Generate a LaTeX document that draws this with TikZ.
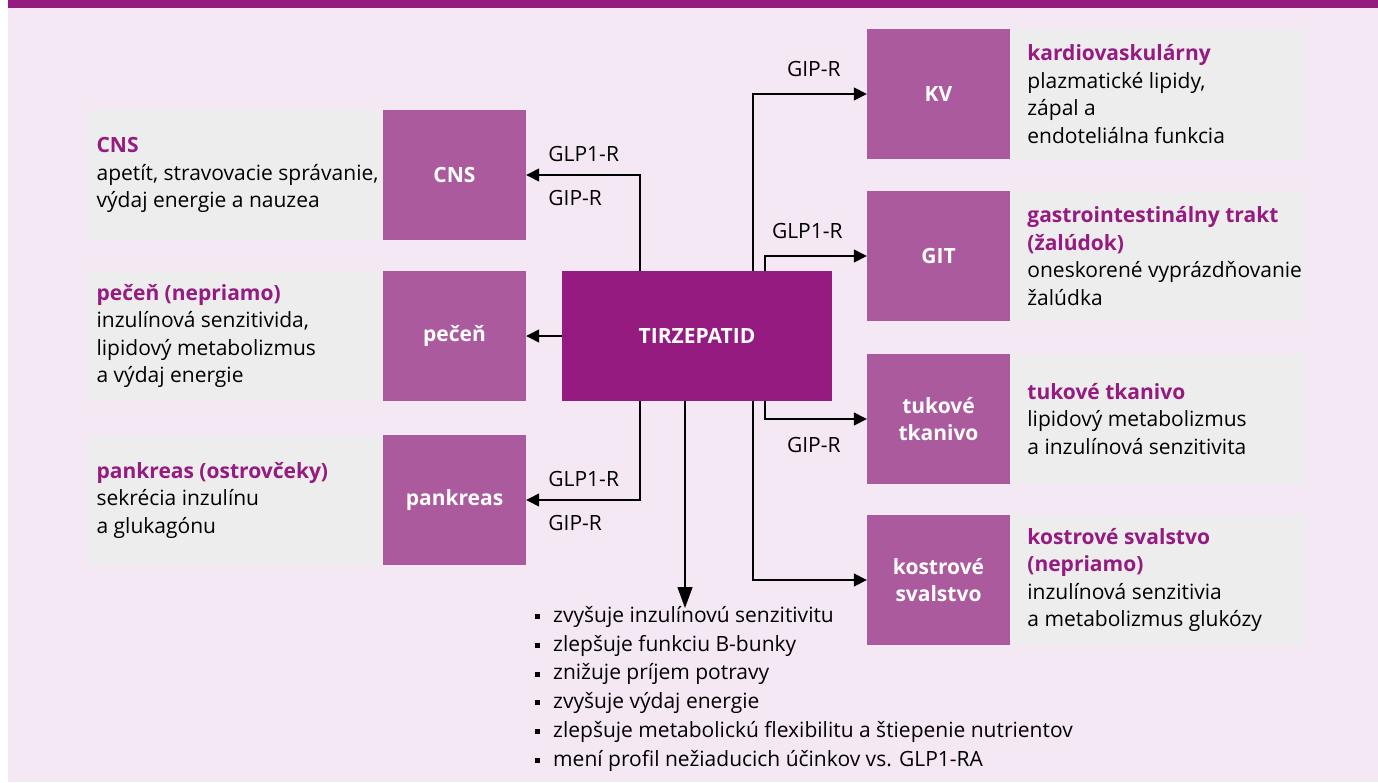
\documentclass[tikz,border=0pt]{standalone}
\usepackage{fontspec}
\setmainfont{Open Sans}
\usetikzlibrary{positioning,arrows.meta}

\definecolor{tirzcol}{HTML}{951B81}
\definecolor{organcol}{HTML}{AB5A9D}
\definecolor{bgcol}{HTML}{F4E8F5}
\definecolor{infocol}{HTML}{EDEDED}

\newcommand{\txt}{\fontsize{21bp}{27.5bp}\selectfont}
\newcommand{\listtxt}{\fontsize{21bp}{28.8bp}\selectfont}
\newcommand{\head}[1]{\textcolor{tirzcol}{\bfseries #1}}
\newcommand{\sq}{\raisebox{0.3ex}{\rule{5bp}{5bp}}\hspace{13bp}}

\tikzset{
  organ/.style={fill=organcol,minimum width=143bp,minimum height=130bp,inner sep=0pt,
    text=white,font=\txt\bfseries,align=center},
  info/.style={fill=infocol,minimum width=295bp,minimum height=130bp,inner sep=0pt},
  desc/.style={align=left,inner sep=0pt,font=\txt},
  lbl/.style={inner sep=0pt,font=\txt},
  arr/.style={line width=1.4bp,-{Triangle[length=13bp,width=13bp]}},
  bigarr/.style={line width=1.4bp,-{Triangle[length=21bp,width=15bp]}}
}

\begin{document}
\begin{tikzpicture}[x=1bp,y=-1bp]

        \useasboundingbox (0,0) rectangle (1378,782);
        \fill[bgcol] (8,8) rectangle (1378,782);
        \fill[tirzcol] (8,0) rectangle (1378,8);

        \begin{scope}[every node/.style={organ}]
          \node (cns)   at (454.5,175) {CNS};
          \node (pecen) at (454.5,336) {pečeň};
          \node (pank)  at (454.5,500) {pankreas};
          \node (kv)    at (938.5,94)  {KV};
          \node (git)   at (938.5,256) {GIT};
          \node (tuk)   at (938.5,419) {tukové\\tkanivo};
          \node (kostr) at (938.5,580) {kostrové\\svalstvo};
        \end{scope}

        \node[fill=tirzcol,minimum width=270bp,minimum height=130bp,inner sep=0pt,
          text=white,font=\txt\bfseries] (tirz) at (697,336) {TIRZEPATID};

        \begin{scope}[every node/.style={info}]
          \node[left=0pt of cns]    (cnsinfo)   {};
          \node[left=0pt of pecen]  (peceninfo) {};
          \node[left=0pt of pank]   (pankinfo)  {};
          \node[right=0pt of kv]    (kvinfo)    {};
          \node[right=0pt of git]   (gitinfo)   {};
          \node[right=0pt of tuk]   (tukinfo)   {};
          \node[right=0pt of kostr] (kostrinfo) {};
        \end{scope}

        \begin{scope}[every node/.style={desc}]
          \node[right=9bp of cnsinfo.west] {\head{CNS}\\apetít, stravovacie správanie,\\výdaj energie a nauzea};
          \node[right=9bp of peceninfo.west] {\head{pečeň (nepriamo)}\\inzulínová senzitivida,\\lipidový metabolizmus\\a výdaj energie};
          \node[right=9bp of pankinfo.west] {\head{pankreas (ostrovčeky)}\\sekrécia inzulínu\\a glukagónu};
          \node[right=17bp of kvinfo.west] {\head{kardiovaskulárny}\\plazmatické lipidy,\\zápal a\\endoteliálna funkcia};
          \node[right=17bp of gitinfo.west] {\head{gastrointestinálny trakt}\\\head{(žalúdok)}\\oneskorené vyprázdňovanie\\žalúdka};
          \node[right=17bp of tukinfo.west] {\head{tukové tkanivo}\\lipidový metabolizmus\\a inzulínová senzitivita};
          \node[right=17bp of kostrinfo.west] {\head{kostrové svalstvo}\\\head{(nepriamo)}\\inzulínová senzitivia\\a metabolizmus glukózy};
          \node[anchor=north west,font=\listtxt] (eff) at (535,606) {\sq zvyšuje inzulínovú senzitivitu\\
            \sq zlepšuje funkciu B-bunky\\
            \sq znižuje príjem potravy\\
            \sq zvyšuje výdaj energie\\
            \sq zlepšuje metabolickú flexibilitu a štiepenie nutrientov\\
            \sq mení profil nežiaducich účinkov vs. GLP1-RA};
        \end{scope}

        \draw[arr] ([xshift=-57bp]tirz.north) |- (cns.east);
        \draw[arr] (tirz.west) -- (pecen.east);
        \draw[arr] ([xshift=-57bp]tirz.south) |- (pank.east);
        \draw[arr] ([xshift=56bp]tirz.north) |- (kv.west);
        \draw[arr] ([xshift=68bp]tirz.north) |- (git.west);
        \draw[arr] ([xshift=68bp]tirz.south) |- (tuk.west);
        \draw[arr] ([xshift=56bp]tirz.south) |- (kostr.west);
        \draw[bigarr] ([xshift=-12bp]tirz.south) -- ([xshift=-12bp,yshift=-2bp]tirz.south |- eff.north);

        \begin{scope}[every node/.style={lbl}]
          \node[above right=13bp and 22bp of cns.east]  {GLP1-R};
          \node[below right=15bp and 22bp of cns.east]  {GIP-R};
          \node[above right=13bp and 22bp of pank.east] {GLP1-R};
          \node[below right=15bp and 22bp of pank.east] {GIP-R};
          \node[above left=17bp and 26bp of kv.west]    {GIP-R};
          \node[above left=17bp and 24bp of git.west]   {GLP1-R};
          \node[below left=18bp and 26bp of tuk.west]   {GIP-R};
        \end{scope}

      \end{tikzpicture}
\end{document}
